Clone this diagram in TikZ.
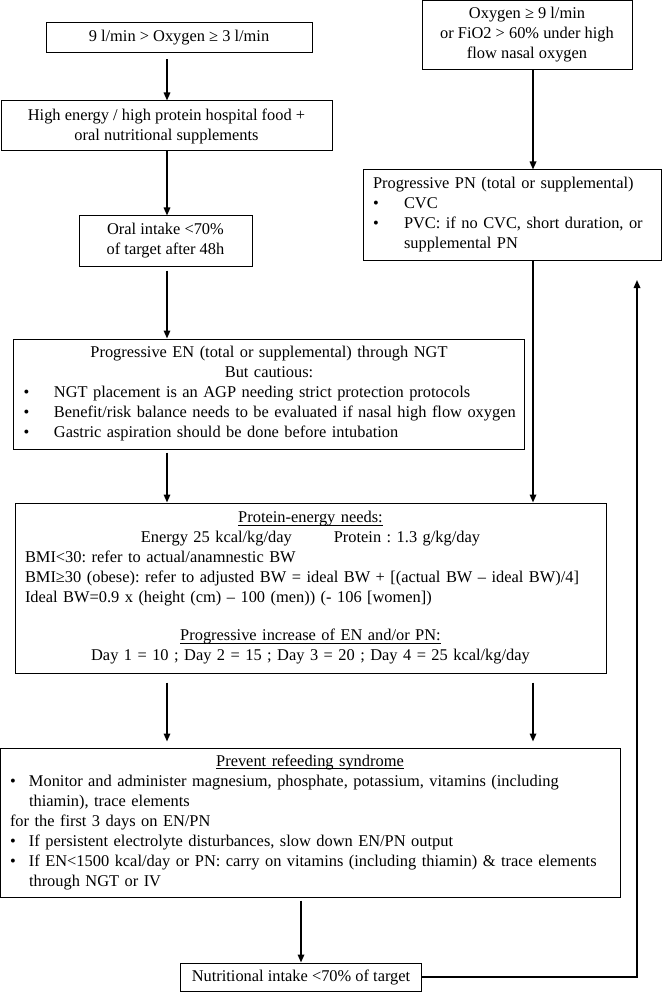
\documentclass[tikz,border=0pt]{standalone}
\usepackage{fontspec}
\setmainfont{Liberation Serif}
\usepackage{tikz}
\usetikzlibrary{arrows.meta}
\frenchspacing
\newcommand{\bitem}[2]{\makebox[#1][l]{\textbullet}#2}
\newcommand{\lline}[1]{\makebox[\linewidth][l]{#1}}
\newcommand{\undl}[1]{\leavevmode\setbox0\hbox{#1}\rlap{\rule[-2.5pt]{\wd0}{0.9pt}}\box0}

\begin{document}
\begin{tikzpicture}[x=1pt,y=-1pt,
  font=\fontsize{16.4}{20}\selectfont,
  box/.style={draw,line width=1pt,inner sep=0pt,align=center},
  arr/.style={line width=1.6pt,-{Triangle[length=8pt,width=6.5pt]}}]
\useasboundingbox (0,0) rectangle (662,992);
\coordinate (colL) at (167,0);
\coordinate (colR) at (533,0);
\coordinate (back) at (637,280);
\node (lowox) [box,minimum width=266,minimum height=30] at (179,38) {9 l/min > Oxygen ≥ 3 l/min};
\node (highox) [box,minimum width=210,minimum height=69] at (527,35) {Oxygen ≥ 9 l/min\\or FiO2 > 60\% under high\\flow nasal oxygen};
\node (food) [box,minimum width=331,minimum height=50] at (166.5,126) {High energy / high protein hospital food +\\oral nutritional supplements};
\node (oral) [box,minimum width=173,minimum height=50] at (165.5,241) {Oral intake <70\%\\of target after 48h};
\node (PN) [box,align=left,text width=278,minimum width=298,minimum height=90] at (512,215) {Progressive PN (total or supplemental)\\
\bitem{31pt}{CVC}\\
\bitem{31pt}{PVC: if no CVC, short duration, or}\\
\hspace*{31pt}supplemental PN};
\node (EN) [box,text width=491,minimum width=511,minimum height=110] at (269,394) {Progressive EN (total or supplemental) through NGT\\
But cautious:\\
\lline{\bitem{30.5pt}{NGT placement is an AGP needing strict protection protocols}}\\
\lline{\bitem{30.5pt}{Benefit/risk balance needs to be evaluated if nasal high flow oxygen}}\\
\lline{\bitem{30.5pt}{Gastric aspiration should be done before intubation}}};
\node (needs) [box,text width=571,minimum width=591,minimum height=170] at (310.5,588) {\undl{Protein-energy needs:}\\
Energy 25 kcal/kg/day\hspace{42pt}Protein : 1.3 g/kg/day\\
\lline{BMI<30: refer to actual/anamnestic BW}\\
\lline{BMI≥30 (obese): refer to adjusted BW = ideal BW + [(actual BW – ideal BW)/4]}\\
\lline{Ideal BW=0.9 x (height (cm) – 100 (men)) (- 106 [women])}\\[18pt]
\undl{Progressive increase of EN and/or PN:}\\
Day 1 = 10 ; Day 2 = 15 ; Day 3 = 20 ; Day 4 = 25 kcal/kg/day};
\node (refeed) [box,text width=600,minimum width=620,minimum height=149] at (310,822.5) {\undl{Prevent refeeding syndrome}\\
\lline{\bitem{19pt}{Monitor and administer magnesium, phosphate, potassium, vitamins (including}}\\
\lline{\hspace*{19pt}thiamin), trace elements}\\
\lline{for the first 3 days on EN/PN}\\
\lline{\bitem{19pt}{If persistent electrolyte disturbances, slow down EN/PN output}}\\
\lline{\bitem{19pt}{If EN<1500 kcal/day or PN: carry on vitamins (including thiamin) \& trace elements}}\\
\lline{\hspace*{19pt}through NGT or IV}};
\node (intake) [box,minimum width=241,minimum height=28] at (301,977) {Nutritional intake <70\% of target};
\draw[arr,shorten <=6pt] (lowox.south -| colL) -- (food.north -| colL);
\draw[arr] (food.south -| colL) -- (oral.north -| colL);
\draw[arr,shorten <=4pt] (oral.south -| colL) -- (EN.north -| colL);
\draw[arr,shorten <=3pt] (EN.south -| colL) -- (needs.north -| colL);
\draw[arr] (highox.south -| colR) -- (PN.north -| colR);
\draw[arr] (PN.south -| colR) -- (needs.north -| colR);
\draw[arr,shorten <=9pt,shorten >=6pt] (needs.south -| colL) -- (refeed.north -| colL);
\draw[arr,shorten <=9pt,shorten >=6pt] (needs.south -| colR) -- (refeed.north -| colR);
\draw[arr,shorten <=3pt] (refeed.south -| intake.north) -- (intake.north);
\draw[arr] (intake.east) -| (back);
\end{tikzpicture}
\end{document}
